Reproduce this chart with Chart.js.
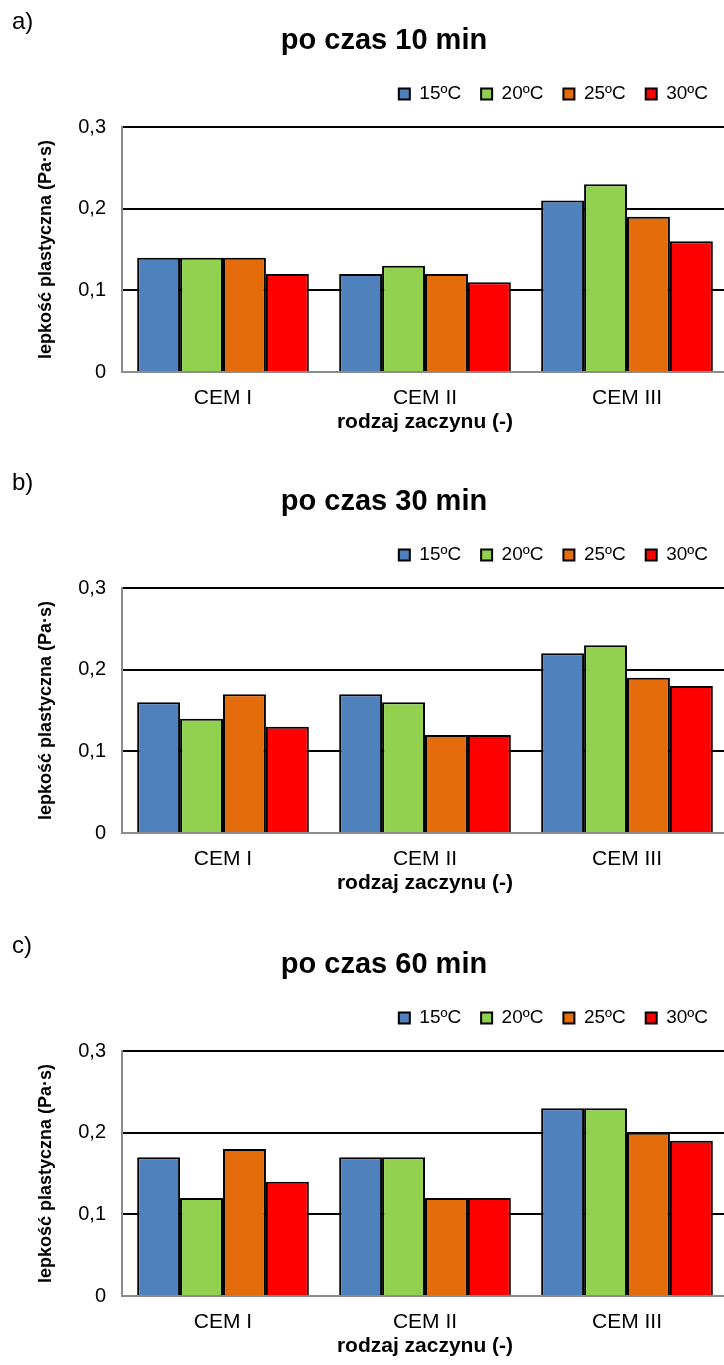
<!DOCTYPE html>
<html lang="pl">
<head>
<meta charset="utf-8">
<title>Lepkość plastyczna zaczynów</title>
<script src="https://cdn.jsdelivr.net/npm/chart.js@4.4.1/dist/chart.umd.min.js"></script>
<style>
  html, body { margin: 0; padding: 0; background: #fff; width: 724px; height: 1365px; overflow: hidden; }
  .panel { position: absolute; left: 0; width: 724px; height: 461px; overflow: hidden; }
  .panel canvas { position: absolute; left: 0; top: 0; }
  .tag { position: absolute; left: 12px; top: 9px; font: 24px "Liberation Sans", Arial, sans-serif; line-height: 24px; color: #000; }
</style>
</head>
<body>
<div class="panel" style="top:0px"><canvas id="chart10" width="740" height="461"></canvas><div class="tag">a)</div></div>
<div class="panel" style="top:461px"><canvas id="chart30" width="740" height="461"></canvas><div class="tag">b)</div></div>
<div class="panel" style="top:924px"><canvas id="chart60" width="740" height="461"></canvas><div class="tag">c)</div></div>
<script>
// Cement paste types on the category axis
const categories = ['CEM I', 'CEM II', 'CEM III'];
// Paste temperatures (one bar series each)
const seriesLabels = ['15ºC', '20ºC', '25ºC', '30ºC'];
const seriesColors = ['#4f81bd', '#92d050', '#e46c0a', '#ff0000'];
// Value-axis labels (Polish decimal comma)
const yTickLabels = ['0', '0,1', '0,2', '0,3'];

// Plastic viscosity [Pa·s]; rows = temperature series, columns = categories
const visc10min = [
  [0.14, 0.12, 0.21],
  [0.14, 0.13, 0.23],
  [0.14, 0.12, 0.19],
  [0.12, 0.11, 0.16]
];
const visc30min = [
  [0.16, 0.17, 0.22],
  [0.14, 0.16, 0.23],
  [0.17, 0.12, 0.19],
  [0.13, 0.12, 0.18]
];
const visc60min = [
  [0.17, 0.17, 0.23],
  [0.12, 0.17, 0.23],
  [0.18, 0.12, 0.20],
  [0.14, 0.12, 0.19]
];

const FONT = '"Liberation Sans", Arial, Helvetica, sans-serif';

// Adds empty space under the legend row, between it and the plot area
const legendGap = {
  id: 'legendGap',
  beforeUpdate(chart, args, opts) {
    const lg = chart.legend;
    if (lg && !lg.__gapWrapped) {
      const baseFit = lg.fit;
      lg.fit = function () {
        baseFit.call(this);
        this.height += opts.gap || 0;
      };
      lg.__gapWrapped = true;
    }
  }
};

function buildChart(canvasId, titleText, values) {
  return new Chart(document.getElementById(canvasId), {
    type: 'bar',
    data: {
      labels: categories,
      datasets: seriesLabels.map((label, i) => ({
        label: label,
        data: values[i],
        backgroundColor: seriesColors[i],
        borderColor: '#000',
        borderWidth: 2,
        categoryPercentage: 0.85,
        barPercentage: 1.0
      }))
    },
    plugins: [legendGap],
    options: {
      responsive: false,
      animation: false,
      devicePixelRatio: 1,
      layout: { padding: { left: 40, right: 12, top: 0, bottom: 0 } },
      plugins: {
        legendGap: { gap: 13.5 },
        title: {
          display: true,
          text: titleText,
          color: '#000',
          font: { family: FONT, size: 29, weight: 'bold' },
          padding: { top: 24, bottom: 5.7 }
        },
        legend: {
          display: true,
          position: 'top',
          align: 'end',
          labels: {
            color: '#000',
            font: { family: FONT, size: 19 },
            boxWidth: 11,
            boxHeight: 11,
            padding: 20
          }
        },
        tooltip: { enabled: false }
      },
      scales: {
        x: {
          grid: { display: false, drawTicks: false },
          border: { display: true, color: '#8c8c8c', width: 2 },
          ticks: { color: '#000', font: { family: FONT, size: 21 }, padding: 14, maxRotation: 0 },
          title: {
            display: true,
            text: 'rodzaj zaczynu (-)',
            color: '#000',
            font: { family: FONT, size: 21, weight: 'bold' },
            padding: { top: 0, bottom: 26 }
          },
          afterFit(scale) { scale.height = 89; }
        },
        y: {
          min: 0,
          max: 0.3,
          ticks: {
            stepSize: 0.1,
            color: '#000',
            font: { family: FONT, size: 20 },
            padding: 16,
            callback: (value, index) => yTickLabels[index]
          },
          grid: {
            drawTicks: false,
            lineWidth: 2,
            color: (ctx) => (ctx.tick && ctx.tick.value === 0) ? 'rgba(0,0,0,0)' : '#000'
          },
          border: { display: true, color: '#8c8c8c', width: 2 },
          title: {
            display: true,
            text: 'lepkość plastyczna (Pa·s)',
            color: '#000',
            font: { family: FONT, size: 18, weight: 'bold' },
            padding: { top: -5, bottom: 0 }
          },
          afterFit(scale) { scale.width = 82; }
        }
      }
    }
  });
}

buildChart('chart10', 'po czas 10 min', visc10min);
buildChart('chart30', 'po czas 30 min', visc30min);
buildChart('chart60', 'po czas 60 min', visc60min);
</script>
</body>
</html>
